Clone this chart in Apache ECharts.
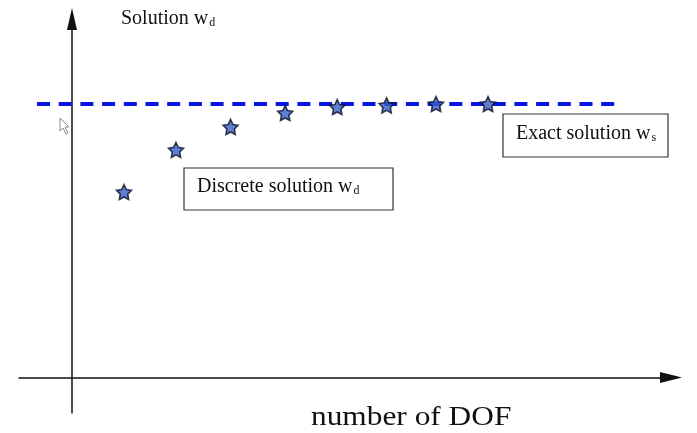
<!DOCTYPE html>
<html>
<head>
<meta charset="utf-8">
<script src="https://cdn.jsdelivr.net/npm/echarts@6/dist/echarts.min.js"></script>
<style>
html,body{margin:0;padding:0;background:#fff;}
#chart{width:697px;height:433px;}
</style>
</head>
<body>
<div id="chart"></div>
<script>
// Data (x = number of DOF step, y = solution relative to exact)
const dofSteps = [1, 2, 3.05, 4.1, 5.1, 6.05, 7, 8];
const discreteValues = [0.678, 0.832, 0.916, 0.967, 0.989, 0.995, 1.0, 1.0];
const exactValue = 1.0;
const exactLineX = [-0.673, 10.46];

const chart = echarts.init(document.getElementById('chart'), null, {renderer: 'canvas'});
const serif = '"Liberation Serif", "DejaVu Serif", serif';
const star = 'path://M50,2 L64.7,31.8 L97.6,36.5 L73.8,59.7 L79.4,92.5 L50,77 L20.6,92.5 L26.2,59.7 L2.4,36.5 L35.3,31.8 Z';
const rich = {
  m: {fontFamily: serif, fontSize: 20, fill: '#111', verticalAlign: 'bottom', lineHeight: 24},
  s: {fontFamily: serif, fontSize: 12, fill: '#111', verticalAlign: 'bottom', lineHeight: 19, padding: [0, 0, 0, 1]}
};

const option = {
  backgroundColor: '#ffffff',
  animation: false,
  grid: {left: 19, right: 26, top: 19, bottom: 20, containLabel: false},
  xAxis: {
    type: 'value', min: -1.019, max: 11.519,
    axisLine: {show: true, onZero: true, symbol: ['none', 'triangle'], symbolSize: [11, 22],
      lineStyle: {color: '#111', width: 1.5}},
    axisTick: {show: false}, axisLabel: {show: false}, splitLine: {show: false}
  },
  yAxis: {
    type: 'value', min: -0.13, max: 1.311,
    axisLine: {show: true, onZero: true, symbol: ['none', 'triangle'], symbolSize: [10, 22],
      lineStyle: {color: '#111', width: 1.5}},
    axisTick: {show: false}, axisLabel: {show: false}, splitLine: {show: false}
  },
  series: [
    {
      name: 'Exact solution', type: 'line', symbol: 'none',
      data: exactLineX.map(x => [x, exactValue]),
      lineStyle: {color: '#0a14e0', width: 4, type: [13, 8.7]},
      z: 2
    },
    {
      name: 'Discrete solution', type: 'scatter', symbol: star, symbolSize: 15,
      data: dofSteps.map((x, i) => [x, discreteValues[i]]),
      itemStyle: {color: '#3a5ec8', borderColor: '#0e1228', borderWidth: 1.6},
      z: 3
    }
  ],
  graphic: [
    {type: 'text', left: 121, top: 9,
      style: {text: '{m|Solution w}{s|d}', rich: rich}},
    {type: 'rect', shape: {x: 184, y: 168, width: 209, height: 42},
      style: {fill: '#fff', stroke: '#333', lineWidth: 1.2}, z: 10},
    {type: 'text', left: 197, top: 177, z: 11,
      style: {text: '{m|Discrete solution w}{s|d}', rich: rich}},
    {type: 'rect', shape: {x: 503, y: 114, width: 165, height: 43},
      style: {fill: '#fff', stroke: '#333', lineWidth: 1.2}, z: 10},
    {type: 'text', left: 516, top: 124, z: 11,
      style: {text: '{m|Exact solution w}{s|s}', rich: rich}},
    {type: 'text', left: 311, top: 404, scaleX: 1.12,
      style: {text: 'number of DOF', font: '28px ' + serif, fill: '#111'}},
    {type: 'polygon', shape: {points: [[60,118],[60,131],[63,128],[66,134],[68,133],[65,127],[69,127]]},
      style: {fill: '#fff', stroke: '#8a8a8a', lineWidth: 1}}
  ]
};
chart.setOption(option);
</script>
</body>
</html>
